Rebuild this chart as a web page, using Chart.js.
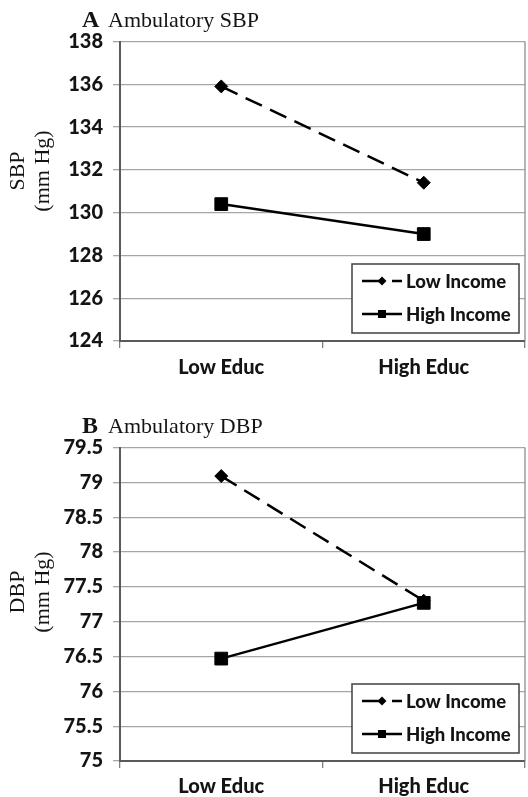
<!DOCTYPE html>
<html>
<head>
<meta charset="utf-8">
<script src="https://cdn.jsdelivr.net/npm/chart.js@4.4.1/dist/chart.umd.min.js"></script>
<style>
  html, body { margin: 0; padding: 0; background: #fff; }
  #wrap { position: relative; width: 528px; height: 797px; overflow: hidden; }
  canvas { position: absolute; left: 0; }
  #chartA { top: 0; }
  #chartB { top: 398px; }
</style>
</head>
<body>
<div id="wrap">
  <canvas id="chartA" width="528" height="398"></canvas>
  <canvas id="chartB" width="528" height="399"></canvas>
</div>
<script>
// Categories and series
const categories = ['Low Educ', 'High Educ'];
const seriesNames = ['Low Income', 'High Income'];

// Panel A: ambulatory systolic BP (mm Hg)
const sbpLowIncome = [135.9, 131.4];
const sbpHighIncome = [130.4, 129.0];
const sbpAxis = { min: 124, max: 138, step: 2 };

// Panel B: ambulatory diastolic BP (mm Hg)
const dbpLowIncome = [79.09, 77.30];
const dbpHighIncome = [76.47, 77.27];
const dbpAxis = { min: 75, max: 79.5, step: 0.5 };

const TICK_FONT = { family: 'Lato', size: 20, weight: '900' };
const TEXT_COLOR = '#141414';
const SERIF = '"Liberation Serif", "Times New Roman", serif';

// Panel title, rotated y title, right plot border and boxed legend
const panelDecor = {
  id: 'panelDecor',
  afterDraw(chart, args, opts) {
    const ctx = chart.ctx;
    const area = chart.chartArea;
    ctx.save();

    // right edge of the plot area
    ctx.strokeStyle = '#8c8c8c';
    ctx.lineWidth = 1.3;
    ctx.beginPath();
    ctx.moveTo(area.right, area.top);
    ctx.lineTo(area.right, area.bottom);
    ctx.stroke();

    // panel title: bold letter + plain text
    ctx.fillStyle = TEXT_COLOR;
    ctx.textBaseline = 'alphabetic';
    ctx.textAlign = 'left';
    ctx.font = 'bold 24px ' + SERIF;
    ctx.fillText(opts.letter, opts.titleX, opts.titleBaseline);
    ctx.font = '22px ' + SERIF;
    ctx.fillText(opts.title, opts.titleX + 26, opts.titleBaseline);

    // y-axis title, two rotated lines
    ctx.textAlign = 'center';
    ctx.textBaseline = 'middle';
    ctx.font = '22px ' + SERIF;
    opts.yTitle.forEach((line, i) => {
      ctx.save();
      ctx.translate(opts.yTitleX[i], opts.yTitleY);
      ctx.rotate(-Math.PI / 2);
      ctx.fillText(line, 0, 0);
      ctx.restore();
    });

    // legend box, anchored to lower-right of plot area
    const bw = 167, bh = 69;
    const bx = area.right - 6 - bw;
    const by = area.bottom - 8 - bh;
    ctx.fillStyle = '#fff';
    ctx.fillRect(bx, by, bw, bh);
    ctx.strokeStyle = '#404040';
    ctx.lineWidth = 1.5;
    ctx.strokeRect(bx, by, bw, bh);

    chart.data.datasets.forEach((ds, i) => {
      const cy = by + 17 + i * 33;
      const x0 = bx + 10;
      ctx.strokeStyle = '#000';
      ctx.fillStyle = '#000';
      ctx.lineWidth = 2.5;
      ctx.setLineDash([]);
      ctx.beginPath();
      if (ds.borderDash && ds.borderDash.length) {
        ctx.moveTo(x0, cy); ctx.lineTo(x0 + 20, cy);
        ctx.moveTo(x0 + 30, cy); ctx.lineTo(x0 + 40, cy);
      } else {
        ctx.moveTo(x0, cy); ctx.lineTo(x0 + 40, cy);
      }
      ctx.stroke();
      ctx.beginPath();
      if (ds.pointStyle === 'rectRot') {
        const r = 4.5;
        ctx.moveTo(x0 + 20 - r, cy); ctx.lineTo(x0 + 20, cy - r);
        ctx.lineTo(x0 + 20 + r, cy); ctx.lineTo(x0 + 20, cy + r);
        ctx.closePath();
      } else {
        ctx.rect(x0 + 16, cy - 4, 8, 8);
      }
      ctx.fill();

      ctx.fillStyle = TEXT_COLOR;
      ctx.textAlign = 'left';
      ctx.textBaseline = 'middle';
      ctx.font = '900 18.5px Lato';
      ctx.fillText(ds.label, x0 + 44, cy + 1);
    });

    ctx.restore();
  }
};

function makeChart(id, cfg) {
  return new Chart(document.getElementById(id), {
    type: 'line',
    plugins: [panelDecor],
    data: {
      labels: categories,
      datasets: [
        {
          label: seriesNames[0],
          data: cfg.low,
          borderColor: '#000',
          backgroundColor: '#000',
          borderWidth: 2.5,
          borderDash: [18, 9],
          pointStyle: 'rectRot',
          pointRadius: 6.5,
          pointBackgroundColor: '#000',
          pointBorderColor: '#000',
          pointBorderWidth: 1,
          tension: 0,
          order: 2
        },
        {
          label: seriesNames[1],
          data: cfg.high,
          borderColor: '#000',
          backgroundColor: '#000',
          borderWidth: 2.5,
          pointStyle: 'rect',
          pointRadius: 9,
          pointBackgroundColor: '#000',
          pointBorderColor: '#000',
          pointBorderWidth: 1,
          tension: 0,
          order: 1
        }
      ]
    },
    options: {
      responsive: false,
      animation: false,
      devicePixelRatio: 1,
      layout: { autoPadding: false, padding: { top: cfg.padTop, right: 3, left: 0, bottom: 0 } },
      plugins: {
        legend: { display: false },
        tooltip: { enabled: false },
        panelDecor: cfg.decor
      },
      scales: {
        x: {
          type: 'category',
          offset: true,
          grid: {
            offset: true,
            drawOnChartArea: false,
            drawTicks: true,
            tickLength: 7,
            color: '#7f7f7f',
            lineWidth: 1.3
          },
          border: { display: true, color: '#5a5a5a', width: 2 },
          ticks: { font: TICK_FONT, color: TEXT_COLOR, padding: cfg.xPad, maxRotation: 0 },
          afterFit: s => {
            s.height = cfg.xHeight;
            s.paddingLeft = 0;
            s.paddingRight = 0;
          }
        },
        y: {
          min: cfg.axis.min,
          max: cfg.axis.max,
          grid: { color: '#a6a6a6', lineWidth: 1.3, tickLength: 7, drawTicks: true },
          border: { display: true, color: '#5a5a5a', width: 2 },
          ticks: {
            stepSize: cfg.axis.step,
            font: TICK_FONT,
            color: TEXT_COLOR,
            padding: 10,
            callback: v => String(Number(v.toFixed(2)))
          },
          afterFit: s => { s.width = 120; }
        }
      }
    }
  });
}

makeChart('chartA', {
  low: sbpLowIncome,
  high: sbpHighIncome,
  axis: sbpAxis,
  padTop: 41.5,
  xHeight: 57,
  xPad: 8,
  decor: {
    letter: 'A', title: 'Ambulatory SBP',
    titleX: 82, titleBaseline: 27,
    yTitle: ['SBP', '(mm Hg)'], yTitleX: [18, 43], yTitleY: 171
  }
});

makeChart('chartB', {
  low: dbpLowIncome,
  high: dbpHighIncome,
  axis: dbpAxis,
  padTop: 49.5,
  xHeight: 36,
  xPad: 7,
  decor: {
    letter: 'B', title: 'Ambulatory DBP',
    titleX: 82, titleBaseline: 35,
    yTitle: ['DBP', '(mm Hg)'], yTitleX: [18, 43], yTitleY: 194
  }
});
</script>
</body>
</html>
